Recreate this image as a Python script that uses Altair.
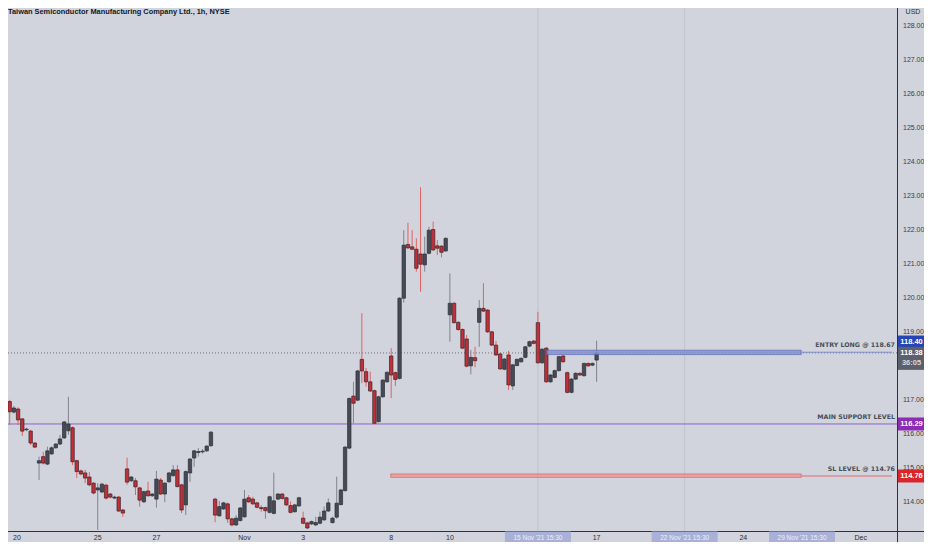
import altair as alt
import pandas as pd

# ---------------- data (hourly candles, bar index 0 = 20 Oct 09:30) ----------------
bar_index = list(range(-1, 141))
opens = [116.90, 116.95, 116.64, 116.73, 116.44, 116.12, 116.08, 115.73, 115.14, 115.33,
         115.11, 115.41, 115.59, 115.70, 115.88, 116.09, 116.18, 115.21, 114.91, 114.85,
         114.73, 114.55, 114.35, 114.29, 114.49, 114.23, 114.11, 114.14, 113.76, 114.97,
         114.62, 114.62, 114.41, 114.00, 114.32, 114.18, 114.08, 114.64, 114.23, 114.59,
         114.77, 114.94, 114.50, 113.91, 114.85, 115.29, 115.45, 115.47, 115.50, 115.65,
         114.08, 113.59, 113.79, 113.94, 113.50, 113.32, 113.45, 113.56, 114.12, 114.08,
         113.97, 113.83, 113.83, 113.69, 113.66, 114.08, 114.23, 114.12, 113.89, 113.71,
         113.88, 113.52, 113.38, 113.35, 113.32, 113.37, 113.47, 113.73, 113.39, 113.55,
         113.92, 114.33, 115.58, 117.11, 116.99, 118.19, 117.83, 117.53, 117.27, 116.36,
         117.09, 117.53, 118.29, 117.80, 117.63, 119.99, 121.57, 121.50, 121.43, 121.29,
         120.97, 121.31, 122.01, 121.53, 121.52, 121.38, 119.50, 119.84, 119.28, 119.07,
         118.79, 118.00, 118.24, 119.28, 119.69, 119.64, 119.00, 118.61, 118.35, 117.90,
         118.32, 117.41, 118.01, 118.12, 118.25, 118.58, 118.73, 119.27, 118.09, 118.52,
         117.53, 117.66, 117.86, 118.29, 117.80, 117.22, 117.61, 117.78, 117.71, 118.07,
         118.02, 118.17]
highs = [117.02, 117.00, 116.82, 116.78, 116.46, 116.18, 116.12, 115.76, 115.33, 115.47,
         115.62, 115.63, 115.73, 115.97, 116.38, 117.09, 116.22, 115.24, 114.95, 114.94,
         114.88, 114.58, 114.55, 114.56, 114.53, 114.26, 114.18, 114.17, 113.79, 115.30,
         114.76, 114.70, 114.44, 114.33, 114.59, 114.26, 114.91, 114.70, 114.58, 114.88,
         115.08, 115.08, 114.53, 114.92, 115.29, 115.53, 115.58, 115.55, 115.67, 116.08,
         114.12, 114.03, 114.00, 113.98, 113.53, 113.61, 113.85, 114.35, 114.20, 114.15,
         114.00, 113.90, 113.86, 114.18, 114.86, 114.26, 114.26, 114.15, 114.01, 113.94,
         114.15, 113.71, 113.41, 113.45, 113.56, 113.71, 113.86, 114.10, 113.56, 114.74,
         114.38, 115.64, 117.07, 117.53, 117.88, 119.55, 117.94, 117.83, 117.30, 117.12,
         117.61, 117.84, 118.52, 117.83, 120.02, 121.99, 122.21, 121.99, 121.75, 123.25,
         121.80, 122.09, 122.24, 121.70, 121.55, 121.78, 120.72, 119.87, 119.31, 119.10,
         118.91, 118.47, 118.56, 119.94, 120.43, 119.67, 119.03, 118.73, 118.38, 118.23,
         118.44, 118.06, 118.22, 118.25, 118.59, 118.74, 118.76, 119.59, 118.52, 118.55,
         117.76, 117.89, 118.30, 118.32, 117.83, 117.64, 117.81, 117.81, 118.10, 118.10,
         118.10, 118.74]
lows = [116.86, 116.26, 116.60, 116.26, 115.94, 116.08, 115.67, 115.58, 114.64, 115.10,
        115.08, 115.38, 115.56, 115.67, 115.85, 115.97, 115.08, 114.70, 114.78, 114.55,
        114.46, 114.22, 113.17, 114.25, 114.07, 114.10, 114.08, 113.70, 113.56, 114.50,
        114.58, 114.20, 113.86, 113.97, 114.15, 114.14, 113.83, 114.20, 113.99, 114.56,
        114.74, 114.42, 113.67, 113.61, 114.59, 115.03, 115.33, 115.42, 115.47, 115.62,
        113.40, 113.56, 113.76, 113.38, 113.28, 113.29, 113.42, 113.53, 113.97, 113.91,
        113.81, 113.71, 113.50, 113.66, 113.63, 114.05, 114.07, 113.88, 113.66, 113.68,
        113.85, 113.34, 113.20, 113.32, 113.29, 113.34, 113.44, 113.70, 113.36, 113.50,
        113.89, 114.30, 115.55, 116.31, 116.96, 117.49, 117.39, 117.23, 116.28, 116.33,
        117.06, 117.50, 117.05, 117.41, 117.60, 119.86, 121.44, 121.40, 120.77, 120.18,
        120.77, 121.28, 121.38, 121.26, 121.19, 121.35, 118.71, 119.24, 119.03, 118.49,
        117.96, 117.75, 117.96, 118.56, 119.58, 118.97, 118.58, 118.29, 117.88, 117.87,
        117.29, 117.29, 117.98, 118.09, 118.22, 118.55, 118.63, 118.06, 118.06, 117.50,
        117.50, 117.63, 117.83, 118.09, 117.19, 117.19, 117.58, 117.70, 117.68, 117.97,
        117.99, 117.53]
closes = [116.98, 116.65, 116.76, 116.41, 116.08, 116.14, 115.73, 115.61, 115.21, 115.14,
          115.50, 115.59, 115.70, 115.85, 116.35, 116.29, 115.18, 114.89, 114.82, 114.70,
          114.50, 114.26, 114.41, 114.52, 114.11, 114.14, 114.14, 113.73, 113.67, 114.58,
          114.73, 114.44, 114.05, 114.30, 114.18, 114.23, 114.67, 114.23, 114.55, 114.85,
          114.94, 114.45, 113.76, 114.89, 115.26, 115.50, 115.48, 115.49, 115.64, 116.05,
          113.61, 113.86, 113.97, 113.50, 113.32, 113.52, 113.82, 114.08, 114.00, 113.94,
          113.84, 113.80, 113.74, 114.15, 114.03, 114.23, 114.10, 113.91, 113.69, 113.91,
          114.12, 113.37, 113.23, 113.42, 113.39, 113.55, 113.73, 113.97, 113.52, 113.96,
          114.35, 115.61, 117.04, 116.90, 117.85, 117.85, 117.53, 117.26, 116.31, 117.09,
          117.58, 117.81, 117.73, 117.60, 119.99, 121.55, 121.47, 121.43, 120.87, 120.99,
          121.29, 121.99, 121.41, 121.46, 121.34, 121.75, 119.84, 119.27, 119.07, 118.52,
          117.99, 118.25, 118.15, 119.69, 119.61, 119.00, 118.61, 118.32, 117.91, 118.20,
          117.44, 118.03, 118.19, 118.22, 118.56, 118.71, 118.66, 118.09, 118.49, 117.53,
          117.73, 117.86, 118.27, 118.12, 117.22, 117.61, 117.78, 117.73, 118.07, 118.00,
          118.07, 118.38]

title_text = ["Taiwan Semiconductor Manufacturing Company Ltd., 1h, NYSE"]

# time axis labels (bar index of the day start)
first_label_idx = [0]
first_label_txt = ["20"]
time_label_idx = [21, 35, 56, 70, 91, 105, 140, 175, 203]
time_label_txt = ["25", "27", "Nov", "3", "8", "10", "17", "24", "Dec"]
time_box_idx = [126, 161, 189]
time_box_txt = ["15 Nov '21   15:30", "22 Nov '21   15:30", "29 Nov '21   15:30"]
vline_idx = [126, 161]

price_ticks = [114, 115, 116, 117, 119, 120, 121, 122, 123, 124, 125, 126, 127, 128]

current_price = 118.38
support_price = 116.29
entry_price = 118.40
sl_price = 114.76

# drawn rectangles (bar index start/end, price top/bottom)
entry_band = {"x0": [128.1], "x1": [188.8], "top": [118.46], "bot": [118.33]}
sl_band = {"x0": [90.9], "x1": [188.8], "top": [114.82], "bot": [114.72]}

line_label_txt = ["ENTRY LONG @ 118.67", "MAIN SUPPORT LEVEL", "SL LEVEL @ 114.76"]
line_label_price = [118.40, 116.29, 114.76]

box_txt = ["118.40", "116.29", "114.76"]
box_price = [118.70, 116.29, 114.76]
box_col = ["#2445b3", "#8e2bb5", "#d9262b"]
gray_box_center = 118.22
gray_box_lines = ["118.38", "36:05"]
gray_box_line_price = [118.38, 118.08]

# ---------------- layout ----------------
W, H = 889, 524
X_DOM = [0.788, 210.46]
Y_DOM = [113.113, 128.525]
xs = alt.Scale(domain=X_DOM, nice=False, zero=False)
ys = alt.Scale(domain=Y_DOM, nice=False, zero=False)
FONT = "Liberation Sans"
TXT = "#2a2e39"
LABEL_Y = H + 5.5

df = pd.DataFrame({"idx": bar_index, "open": opens, "high": highs, "low": lows, "close": closes})
df["dir"] = ["up" if c >= o else "down" for o, c in zip(opens, closes)]
up = df[df["dir"] == "up"]
down = df[df["dir"] == "down"]

X = lambda f="idx": alt.X(f"{f}:Q", scale=xs, axis=None)
Y = lambda f: alt.Y(f"{f}:Q", scale=ys, axis=None)

vlines = alt.Chart(pd.DataFrame({"idx": vline_idx})).mark_rule(
    color="#bfc3cc", strokeWidth=1).encode(x=X(), y=alt.value(0), y2=alt.value(H))

support = alt.Chart(pd.DataFrame({"price": [support_price]})).mark_rule(
    color="#8d63c9", strokeWidth=1).encode(y=Y("price"), x=alt.value(0), x2=alt.value(W))

cur = alt.Chart(pd.DataFrame({"price": [current_price]})).mark_rule(
    color="#70737e", strokeWidth=1, strokeDash=[1, 2]).encode(
    y=Y("price"), x=alt.value(0), x2=alt.value(W))

entry_rect = alt.Chart(pd.DataFrame(entry_band)).mark_rect(
    fill="#8391d0", stroke="#5566b8", strokeWidth=0.8, opacity=0.85).encode(
    x=X("x0"), x2="x1:Q", y=Y("top"), y2="bot:Q")
sl_rect = alt.Chart(pd.DataFrame(sl_band)).mark_rect(
    fill="#ec9a9a", stroke="#e05a5a", strokeWidth=0.8, opacity=0.85).encode(
    x=X("x0"), x2="x1:Q", y=Y("top"), y2="bot:Q")

entry_ray = alt.Chart(pd.DataFrame({"x0": [188.8], "x1": [X_DOM[1]], "price": [entry_price]})).mark_rule(
    color="#7f8cc8", strokeWidth=1).encode(x=X("x0"), x2="x1:Q", y=Y("price"))
sl_ray = alt.Chart(pd.DataFrame({"x0": [188.8], "x1": [X_DOM[1]], "price": [sl_price]})).mark_rule(
    color="#e36a6a", strokeWidth=1).encode(x=X("x0"), x2="x1:Q", y=Y("price"))

wick_up = alt.Chart(up).mark_rule(strokeWidth=1, color="#80838d").encode(x=X(), y=Y("low"), y2="high:Q")
wick_dn = alt.Chart(down).mark_rule(strokeWidth=1, color="#e06262").encode(x=X(), y=Y("low"), y2="high:Q")
body_up = alt.Chart(up).mark_bar(size=3.4, strokeWidth=0.7, fill="#474a55", stroke="#2b2e37").encode(
    x=X(), y=Y("open"), y2="close:Q")
body_dn = alt.Chart(down).mark_bar(size=3.4, strokeWidth=0.7, fill="#c0303a", stroke="#3d2024").encode(
    x=X(), y=Y("open"), y2="close:Q")

ll = pd.DataFrame({"t": line_label_txt, "price": line_label_price})
line_labels = alt.Chart(ll).mark_text(
    align="right", baseline="middle", dy=-7, font="DejaVu Sans", fontWeight="bold",
    fontSize=6.3, color="#4a4e59").encode(x=alt.value(W - 2), y=Y("price"), text="t:N")

title = alt.Chart(pd.DataFrame({"t": title_text})).mark_text(
    align="left", baseline="middle", font=FONT, fontWeight="bold", fontSize=7.4, color="#131722").encode(
    x=alt.value(0), y=alt.value(4), text="t:N")

usd = alt.Chart(pd.DataFrame({"t": ["USD"]})).mark_text(
    align="center", baseline="middle", font=FONT, fontSize=7, color=TXT).encode(
    x=alt.value(W + 16), y=alt.value(3.5), text="t:N")

sep_v = alt.Chart(pd.DataFrame({"a": [0]})).mark_rule(color="#2f323c", strokeWidth=1).encode(
    x=alt.value(W + 0.5), y=alt.value(0), y2=alt.value(H + 10))
sep_h = alt.Chart(pd.DataFrame({"a": [0]})).mark_rule(color="#2f323c", strokeWidth=1).encode(
    x=alt.value(0), x2=alt.value(W + 27), y=alt.value(H - 0.5))

pt = pd.DataFrame({"price": price_ticks, "t": [f"{v:.2f}" for v in price_ticks]})
price_labels = alt.Chart(pt).mark_text(
    align="left", baseline="middle", font=FONT, fontSize=7, color="#3a3d47").encode(
    x=alt.value(W + 6), y=Y("price"), text="t:N")

BOX = "M-1,-0.481L1,-0.481L1,0.481L-1,0.481Z"
GBOX = "M-1,-0.852L1,-0.852L1,0.852L-1,0.852Z"
TBOX = "M-1,-0.182L1,-0.182L1,0.182L-1,0.182Z"

bx = pd.DataFrame({"t": box_txt, "price": box_price, "c": box_col})
boxes = alt.Chart(bx).mark_point(shape=BOX, size=729, filled=True, opacity=1, strokeWidth=0).encode(
    x=alt.value(W + 14.5), y=Y("price"), color=alt.Color("c:N", scale=None))
box_text = alt.Chart(bx).mark_text(
    align="center", baseline="middle", font=FONT, fontSize=7.5, fontWeight="bold", color="white").encode(
    x=alt.value(W + 14.5), y=Y("price"), text="t:N")

gray_box = alt.Chart(pd.DataFrame({"price": [gray_box_center]})).mark_point(
    shape=GBOX, size=729, filled=True, opacity=1, strokeWidth=0, color="#5d606b").encode(
    x=alt.value(W + 14.5), y=Y("price"))
gt = pd.DataFrame({"t": gray_box_lines, "price": gray_box_line_price, "c": ["#ffffff", "#d6d8de"]})
gray_text = alt.Chart(gt).mark_text(
    align="center", baseline="middle", font=FONT, fontSize=7.5, fontWeight="bold").encode(
    x=alt.value(W + 14.5), y=Y("price"), text="t:N", color=alt.Color("c:N", scale=None))

first_label = alt.Chart(pd.DataFrame({"idx": first_label_idx, "t": first_label_txt})).mark_text(
    align="left", baseline="middle", dx=3.4, font=FONT, fontSize=7, color=TXT).encode(
    x=X(), y=alt.value(LABEL_Y), text="t:N")
time_labels = alt.Chart(pd.DataFrame({"idx": time_label_idx, "t": time_label_txt})).mark_text(
    align="center", baseline="middle", font=FONT, fontSize=7, color=TXT).encode(
    x=X(), y=alt.value(LABEL_Y), text="t:N")

tb = pd.DataFrame({"idx": time_box_idx, "t": time_box_txt})
time_boxes = alt.Chart(tb).mark_point(shape=TBOX, size=4356, filled=True, opacity=1, strokeWidth=0,
                                       color="#a9b1d8").encode(x=X(), y=alt.value(LABEL_Y))
time_box_text = alt.Chart(tb).mark_text(
    align="center", baseline="middle", font=FONT, fontSize=6.5, color="#eef0fa").encode(
    x=X(), y=alt.value(LABEL_Y), text="t:N")

chart = alt.layer(
    vlines, support, cur, wick_up, wick_dn, body_up, body_dn, entry_rect, sl_rect, entry_ray, sl_ray,
    line_labels, title, price_labels, boxes, box_text, gray_box, gray_text, usd, sep_v, sep_h,
    first_label, time_labels, time_boxes, time_box_text
).properties(
    width=W, height=H,
    autosize=alt.AutoSizeParams(type="none"),
    padding={"left": 0, "top": 0, "right": 27, "bottom": 10},
).configure(background="#d1d4dc").configure_view(strokeWidth=0)

chart.save("out.html", embed_options={"renderer": "svg", "actions": False})
